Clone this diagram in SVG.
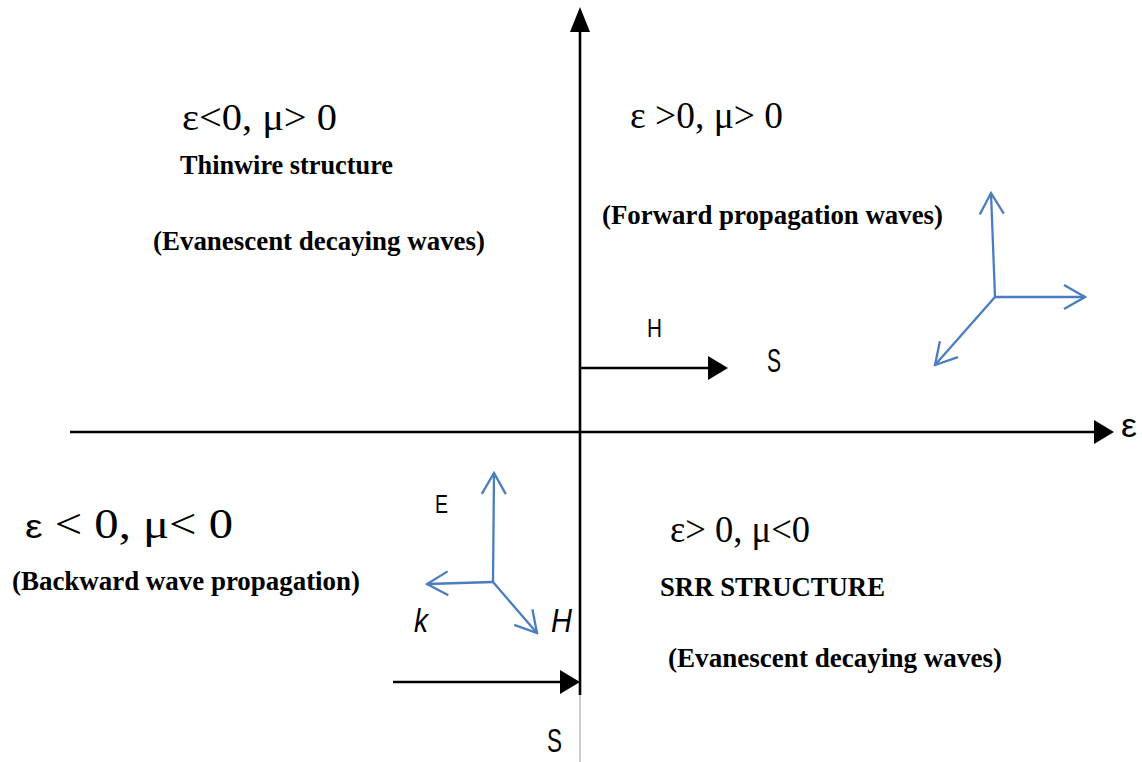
<svg xmlns="http://www.w3.org/2000/svg" width="1142" height="762" viewBox="0 0 1142 762">
<style>
.ax{stroke:#000;stroke-width:2.6;fill:none}
.bl{stroke:#4a7dc0;stroke-width:2.3;fill:none}
.cond{font-family:"Liberation Serif","Times New Roman",serif;fill:#000}
.bold{font-family:"Liberation Serif","Times New Roman",serif;font-weight:bold;fill:#000}
.sans{font-family:"Liberation Sans",Arial,sans-serif;fill:#000}
</style>
<defs>
<marker id="tri" viewBox="0 0 20 24" refX="0" refY="12" markerWidth="20" markerHeight="24" markerUnits="userSpaceOnUse" orient="auto">
<path d="M0,0 L20,12 L0,24 Z" fill="#000"/>
</marker>
<marker id="triV" viewBox="0 0 25 20" refX="0" refY="10" markerWidth="25" markerHeight="20" markerUnits="userSpaceOnUse" orient="auto">
<path d="M0,0 L25,10 L0,20 Z" fill="#000"/>
</marker>
<marker id="vee" viewBox="0 0 24 28" refX="22" refY="14" markerWidth="24" markerHeight="28" markerUnits="userSpaceOnUse" orient="auto">
<path d="M1,2 L22,14 L1,26" fill="none" stroke="#4a7dc0" stroke-width="2.3"/>
</marker>
</defs>
<rect width="1142" height="762" fill="#fff"/>
<g id="connectors">
<line class="ax" x1="580" y1="695" x2="580" y2="32" marker-end="url(#triV)"/>
<line x1="580" y1="695" x2="580" y2="762" stroke="#bbb" stroke-width="1.5"/>
<line class="ax" x1="70" y1="432" x2="1094" y2="432" marker-end="url(#tri)"/>
<line class="ax" x1="580" y1="368" x2="708" y2="368" stroke-width="2.8" marker-end="url(#tri)"/>
<line class="ax" x1="393" y1="682" x2="560" y2="682" stroke-width="2.8" marker-end="url(#tri)"/>
<line class="bl" x1="995" y1="297" x2="991" y2="193" marker-end="url(#vee)"/>
<line class="bl" x1="995" y1="297" x2="1085" y2="297" marker-end="url(#vee)"/>
<line class="bl" x1="995" y1="297" x2="935" y2="365" marker-end="url(#vee)"/>
<line class="bl" x1="493" y1="582" x2="494" y2="473" marker-end="url(#vee)"/>
<line class="bl" x1="493" y1="582" x2="427" y2="584" marker-end="url(#vee)"/>
<line class="bl" x1="493" y1="582" x2="537" y2="633" marker-end="url(#vee)"/>
</g>
<g id="axis-label-eps"><text class="sans" x="1121" y="437" font-size="34" textLength="16" lengthAdjust="spacingAndGlyphs">ε</text></g>
<g id="q2">
<text class="cond" x="182" y="130" font-size="38" textLength="155" lengthAdjust="spacingAndGlyphs">ε&lt;0, μ&gt; 0</text>
<text class="bold" x="180" y="174" font-size="28" textLength="213" lengthAdjust="spacingAndGlyphs">Thinwire structure</text>
<text class="bold" x="153" y="250" font-size="28" textLength="332" lengthAdjust="spacingAndGlyphs">(Evanescent decaying waves)</text>
</g>
<g id="q1">
<text class="cond" x="630" y="128" font-size="38" textLength="153" lengthAdjust="spacingAndGlyphs">ε &gt;0, μ&gt; 0</text>
<text class="bold" x="602" y="224" font-size="28" textLength="341" lengthAdjust="spacingAndGlyphs">(Forward propagation waves)</text>
<text class="sans" x="647" y="337" font-size="26" textLength="15" lengthAdjust="spacingAndGlyphs">H</text>
<text class="sans" x="767" y="372" font-size="33" textLength="14" lengthAdjust="spacingAndGlyphs">S</text>
</g>
<g id="q3">
<text class="cond" x="25" y="538" font-size="42" textLength="208" lengthAdjust="spacingAndGlyphs"><tspan class="sans" font-size="34">ε</tspan> &lt; 0, μ&lt; 0</text>
<text class="bold" x="12" y="590" font-size="28" textLength="348" lengthAdjust="spacingAndGlyphs">(Backward wave propagation)</text>
<text class="sans" x="435" y="513" font-size="25" textLength="13" lengthAdjust="spacingAndGlyphs">E</text>
<text class="sans" x="414" y="632" font-size="33" font-style="italic" textLength="14" lengthAdjust="spacingAndGlyphs">k</text>
<text class="sans" x="551" y="632" font-size="33" font-style="italic" textLength="21" lengthAdjust="spacingAndGlyphs">H</text>
<text class="sans" x="547" y="752" font-size="33" textLength="15" lengthAdjust="spacingAndGlyphs">S</text>
</g>
<g id="q4">
<text class="cond" x="670" y="542" font-size="38" textLength="140" lengthAdjust="spacingAndGlyphs">ε&gt; 0, μ&lt;0</text>
<text class="bold" x="660" y="596" font-size="28" textLength="225" lengthAdjust="spacingAndGlyphs">SRR STRUCTURE</text>
<text class="bold" x="668" y="667" font-size="28" textLength="334" lengthAdjust="spacingAndGlyphs">(Evanescent decaying waves)</text>
</g>
</svg>
